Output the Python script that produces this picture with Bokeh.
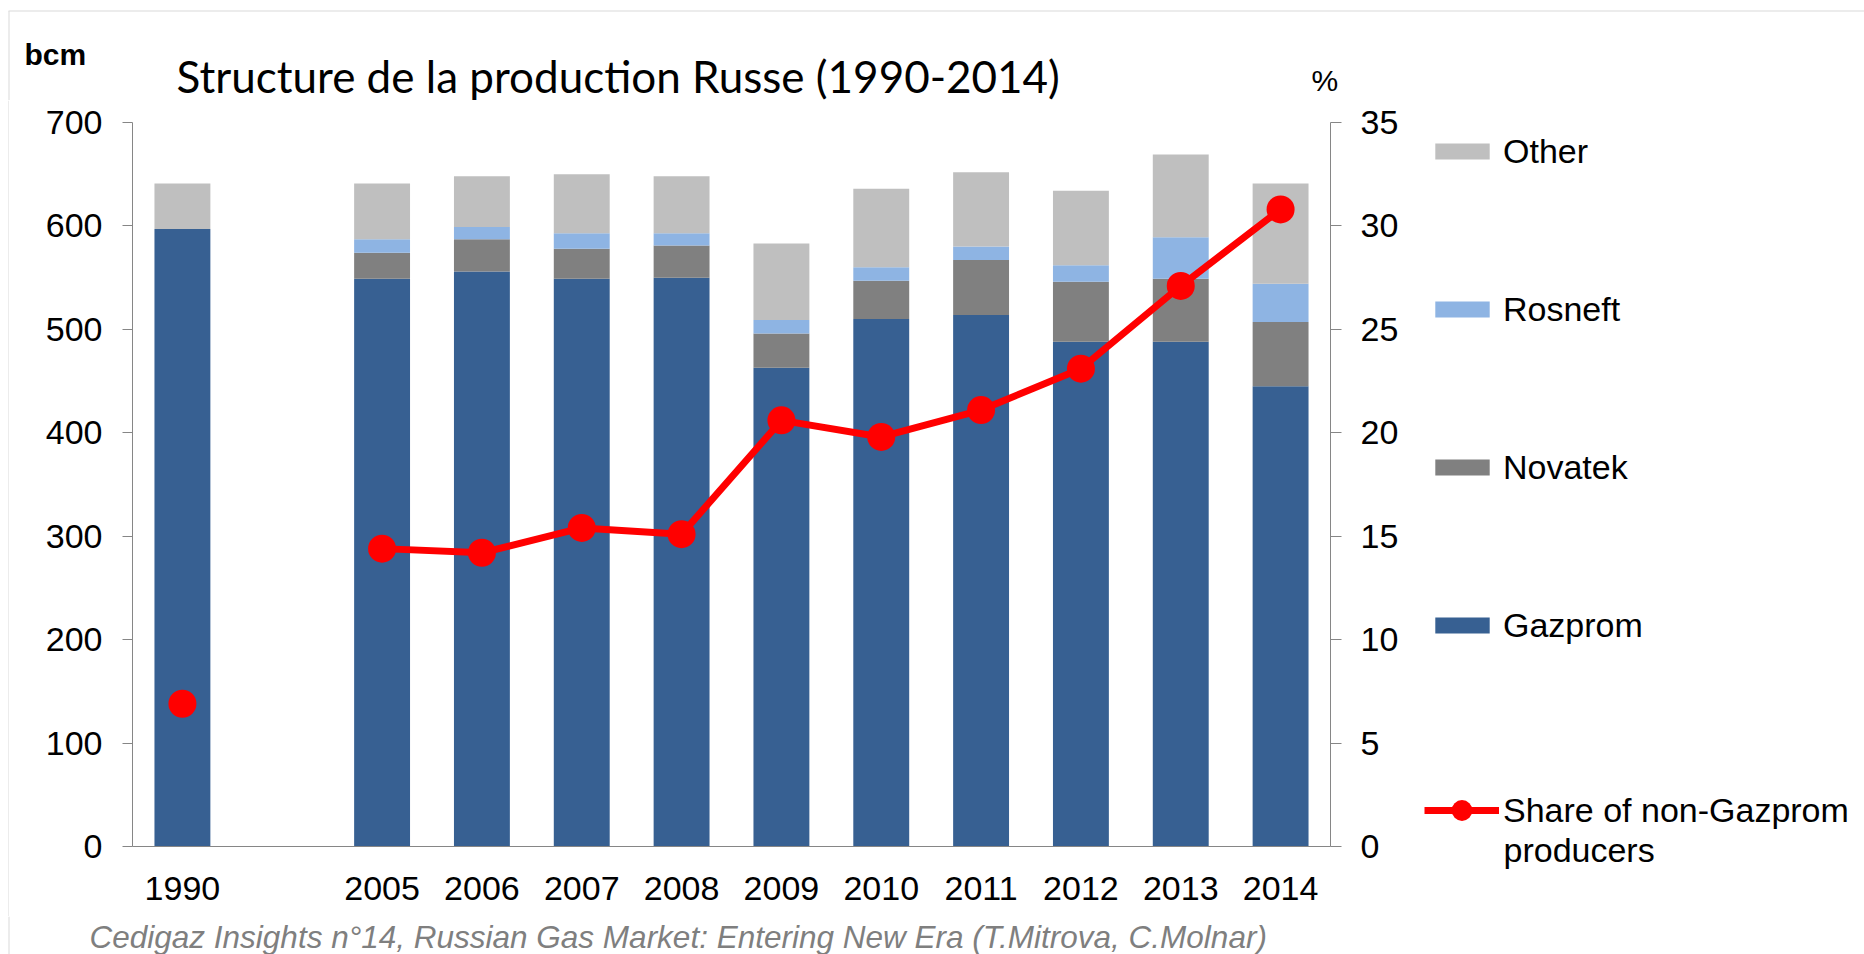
from bokeh.plotting import figure
from bokeh.layouts import column, row
from bokeh.models import (FactorRange, Range1d, LinearAxis, Legend, LegendItem,
                          Label, ColumnDataSource, FixedTicker)
from bokeh.embed import file_html
from bokeh.resources import INLINE

# ---- data (bcm, %) ----
years = ["1990", "2005", "2006", "2007", "2008", "2009", "2010", "2011", "2012", "2013", "2014"]
slots = ["1990", " ", "2005", "2006", "2007", "2008", "2009", "2010", "2011", "2012", "2013", "2014"]
gazprom = [597, 549, 556, 549, 550, 463, 510, 514, 488, 488, 445]
novatek = [0, 25, 31, 29, 31, 33, 37, 53, 58, 61, 62]
rosneft = [0, 13, 12, 15, 12, 13, 13, 13, 16, 40, 37]
other = [44, 54, 49, 57, 55, 74, 76, 72, 72, 80, 97]
share_non_gazprom = [6.9, 14.4, 14.2, 15.4, 15.1, 20.6, 19.8, 21.1, 23.1, 27.1, 30.8]
bcm_ticks = [0, 100, 200, 300, 400, 500, 600, 700]
pct_ticks = [0, 5, 10, 15, 20, 25, 30, 35]

series_names = ["Gazprom", "Novatek", "Rosneft", "Other"]
series_colors = ["#376092", "#808080", "#8EB4E3", "#BFBFBF"]
RED = "#FF0000"
BORDER = "#D9D9D9"

FONT = "Liberation Sans"
TICK_SIZE = "34px"

TOP_H = 100      # title band
MID_H = 816      # chart row
BOT_H = 38       # source band


def blank_fig(w, h, xr, yr):
    f = figure(width=w, height=h, x_range=xr, y_range=yr, title=None,
               x_axis_location=None, y_axis_location=None, min_border=0,
               output_backend="svg", toolbar_location=None)
    f.outline_line_color = None
    f.grid.visible = False
    f.background_fill_color = "white"
    f.border_fill_color = "white"
    return f


# ---------------- main chart ----------------
source = ColumnDataSource(dict(year=years, Gazprom=gazprom, Novatek=novatek,
                               Rosneft=rosneft, Other=other, share=share_non_gazprom))
line_source = ColumnDataSource(dict(year=years[1:], share=share_non_gazprom[1:]))

p = figure(x_range=FactorRange(factors=slots, range_padding=0),
           y_range=Range1d(0, 700), title=None,
           frame_width=1198, frame_height=724,
           min_border_left=123, min_border_right=80,
           min_border_top=22, min_border_bottom=70,
           output_backend="svg", toolbar_location=None)
p.extra_y_ranges = {"pct": Range1d(0, 35)}
p.outline_line_color = None
p.background_fill_color = "white"
p.border_fill_color = "white"
p.xgrid.visible = False
p.ygrid.visible = False

bars = p.vbar_stack(series_names, x="year", width=0.56, color=series_colors,
                    line_color=None, source=source)
p.line(x="year", y="share", source=line_source, y_range_name="pct",
       line_color=RED, line_width=7)
p.scatter(x="year", y="share", source=source, y_range_name="pct",
          size=28, fill_color=RED, line_color=None)

xa = p.xaxis[0]
xa.axis_line_color = "#868686"
xa.major_tick_out = 0
xa.major_tick_in = 0
xa.major_label_text_font = FONT
xa.major_label_text_font_size = TICK_SIZE
xa.major_label_text_color = "black"
xa.major_label_standoff = 22

ya = p.yaxis[0]
ya.ticker = FixedTicker(ticks=bcm_ticks)
ya.axis_line_color = "#868686"
ya.major_tick_line_color = "#868686"
ya.major_tick_out = 10
ya.major_tick_in = 0
ya.minor_tick_line_color = None
ya.major_label_text_font = FONT
ya.major_label_text_font_size = TICK_SIZE
ya.major_label_text_color = "black"
ya.major_label_standoff = 20

ra = LinearAxis(y_range_name="pct", ticker=FixedTicker(ticks=pct_ticks))
ra.axis_line_color = "#868686"
ra.major_tick_line_color = "#868686"
ra.major_tick_out = 11
ra.major_tick_in = 0
ra.minor_tick_line_color = None
ra.major_label_text_font = FONT
ra.major_label_text_font_size = TICK_SIZE
ra.major_label_text_color = "black"
ra.major_label_standoff = 19
p.add_layout(ra, "right")

# ---------------- left border strip ----------------
strip = blank_fig(9, MID_H, Range1d(0, 9), Range1d(MID_H, 0))
strip.segment(x0=[8.5], y0=[0], x1=[8.5], y1=[MID_H], line_color=BORDER, line_width=1)

# ---------------- legend panel (page coordinates) ----------------
LG_X0 = 1410
lg = blank_fig(1864 - LG_X0, MID_H, Range1d(LG_X0, 1864), Range1d(TOP_H + MID_H, TOP_H))
nan = float("nan")
dummy_bars = [lg.vbar(x=[nan], top=[nan], width=1, fill_color=c, line_color=None)
              for c in series_colors]
dummy_line = lg.line(x=[nan], y=[nan], line_color=RED, line_width=7)
dummy_dot = lg.scatter(x=[nan], y=[nan], size=28, fill_color=RED, line_color=None)

bar_items = [LegendItem(label=n, renderers=[r]) for n, r in zip(series_names, dummy_bars)][::-1]
leg1 = Legend(items=bar_items, location=(18, 271), orientation="vertical",
              glyph_width=68, glyph_height=20, label_height=40, spacing=118,
              label_standoff=7, padding=0, margin=0,
              border_line_color=None, background_fill_alpha=0,
              label_text_font=FONT, label_text_font_size=TICK_SIZE,
              label_text_color="black")
lg.add_layout(leg1)

leg2 = Legend(items=[LegendItem(label="Share of non-Gazprom", renderers=[dummy_line, dummy_dot])],
              location=(14, 80), glyph_width=75, glyph_height=52, label_height=40,
              label_standoff=4, padding=0, margin=0,
              border_line_color=None, background_fill_alpha=0,
              label_text_font=FONT, label_text_font_size=TICK_SIZE,
              label_text_color="black")
lg.add_layout(leg2)
lg.add_layout(Label(x=1503, y=849, text="producers", text_font=FONT,
                    text_font_size=TICK_SIZE, text_color="black", text_baseline="middle"))

# ---------------- top band (titles) ----------------
top = blank_fig(1864, TOP_H, Range1d(0, 1864), Range1d(TOP_H, 0))
top.segment(x0=[8], y0=[10.5], x1=[1864], y1=[10.5], line_color=BORDER, line_width=1)
top.segment(x0=[8.5], y0=[10.5], x1=[8.5], y1=[TOP_H], line_color=BORDER, line_width=1)
top.add_layout(Label(x=176, y=75, text="Structure de la production Russe (1990-2014)",
                     text_font="Lato", text_font_size="44px", text_color="black",
                     text_baseline="alphabetic"))
top.add_layout(Label(x=24, y=54, text="bcm", text_font=FONT, text_font_size="30px",
                     text_font_style="bold", text_color="black", text_baseline="alphabetic"))
top.add_layout(Label(x=1311, y=80, text="%", text_font=FONT, text_font_size="30px",
                     text_color="black", text_baseline="alphabetic"))

# ---------------- bottom band (source) ----------------
bottom = blank_fig(1864, BOT_H, Range1d(0, 1864), Range1d(BOT_H, 0))
bottom.segment(x0=[8.5], y0=[0], x1=[8.5], y1=[BOT_H], line_color=BORDER, line_width=1)
bottom.add_layout(Label(x=89, y=2,
                        text="Cedigaz Insights n°14, Russian Gas Market: Entering New Era (T.Mitrova, C.Molnar)",
                        text_font=FONT, text_font_size="31.5px", text_font_style="italic",
                        text_color="#7F7F7F", text_baseline="top"))

layout = column(top, row(column(strip), p, column(lg), spacing=0), bottom, spacing=0)

open("out.html", "w").write(file_html(layout, INLINE))
